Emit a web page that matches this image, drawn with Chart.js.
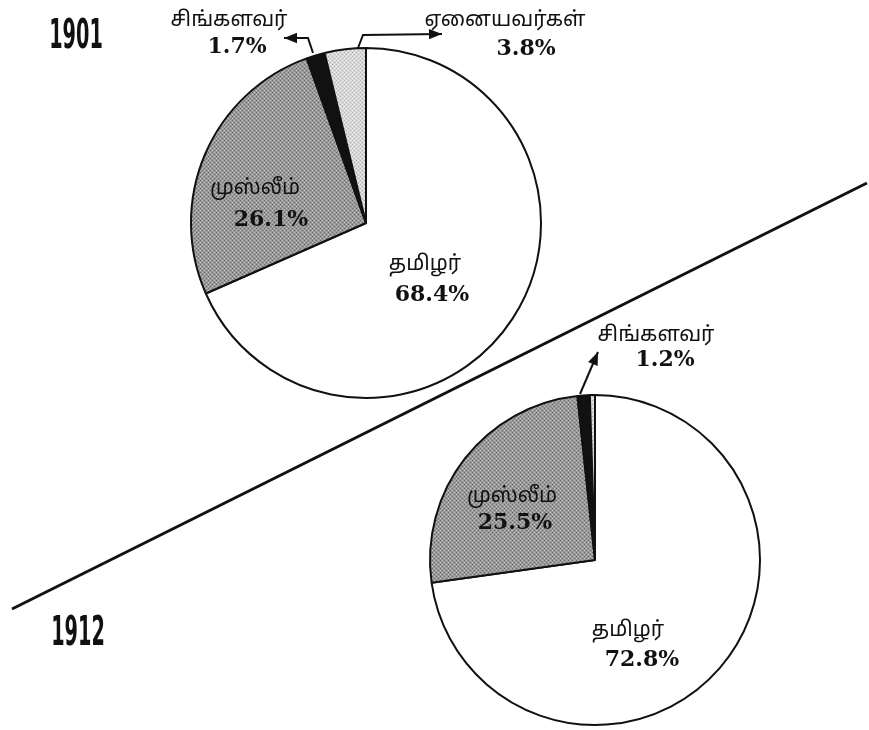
<!DOCTYPE html>
<html>
<head>
<meta charset="utf-8">
<script src="https://cdn.jsdelivr.net/npm/chart.js@4/dist/chart.umd.min.js"></script>
<style>
  html, body { margin: 0; padding: 0; background: #fff; }
  #wrap { position: relative; width: 869px; height: 730px; }
  #wrap canvas { position: absolute; left: 0; top: 0; }
</style>
</head>
<body>
<div id="wrap">
  <canvas id="pie1901" width="869" height="730"></canvas>
  <canvas id="pie1912" width="869" height="730"></canvas>
</div>
<script>
// --- Data ---
const categories = ['தமிழர்', 'முஸ்லீம்', 'சிங்களவர்', 'ஏனையவர்கள்'];
const years = ['1901', '1912'];
const share1901 = [68.4, 26.1, 1.7, 3.8];
const share1912 = [72.8, 25.5, 1.2, 0.5];

const TAMIL_FONT = '21px "Noto Sans Tamil", "Latha", "Noto Sans", sans-serif';
const NUM_FONT = 'bold 22px "DejaVu Serif", "Liberation Serif", serif';

// --- Pola titik ala cetakan ---
function dotPattern(base, dark, light) {
  const c = document.createElement('canvas');
  c.width = 4; c.height = 4;
  const g = c.getContext('2d');
  g.fillStyle = base; g.fillRect(0, 0, 4, 4);
  g.fillStyle = dark;
  g.fillRect(0, 0, 1, 1); g.fillRect(2, 2, 1, 1);
  g.fillStyle = light;
  g.fillRect(2, 0, 1, 1); g.fillRect(0, 2, 1, 1);
  return g.createPattern(c, 'repeat');
}

const fills = [
  '#ffffff',
  dotPattern('#9a9a9a', '#666666', '#bdbdbd'),
  '#111111',
  dotPattern('#d8d8d8', '#acacac', '#efefef')
];

// posisi label tiap kategori (null = tidak ditulis)
const labelPos1901 = [[425, 266, 432, 295], [255, 190, 271, 220], [229, 22, 237, 47], [505, 22, 526, 49]];
const labelPos1912 = [[628, 632, 642, 660], [512, 498, 515, 523], [656, 337, 665, 360], null];

function arrow(ctx, pts) {
  ctx.beginPath();
  ctx.moveTo(pts[0][0], pts[0][1]);
  for (let i = 1; i < pts.length; i++) ctx.lineTo(pts[i][0], pts[i][1]);
  ctx.stroke();
  const [x1, y1] = pts[pts.length - 2];
  const [x2, y2] = pts[pts.length - 1];
  const a = Math.atan2(y2 - y1, x2 - x1);
  ctx.beginPath();
  ctx.moveTo(x2, y2);
  ctx.lineTo(x2 - 14 * Math.cos(a - 0.38), y2 - 14 * Math.sin(a - 0.38));
  ctx.lineTo(x2 - 14 * Math.cos(a + 0.38), y2 - 14 * Math.sin(a + 0.38));
  ctx.closePath();
  ctx.fill();
}

function yearText(ctx, text, x, y) {
  ctx.save();
  ctx.translate(x, y);
  ctx.scale(0.47, 1);
  ctx.font = 'bold 41px "DejaVu Sans", sans-serif';
  ctx.textAlign = 'center';
  ctx.textBaseline = 'middle';
  ctx.fillText(text, 0, 0);
  ctx.restore();
}

// --- Plugin label & dekorasi ---
const labelPlugin = {
  id: 'pieLabels',
  afterDraw(chart, args, opts) {
    const ctx = chart.ctx;
    const values = chart.data.datasets[0].data;
    ctx.save();
    ctx.fillStyle = '#111';
    ctx.strokeStyle = '#111';
    ctx.textAlign = 'center';
    ctx.textBaseline = 'middle';

    if (opts.decor) {
      ctx.lineWidth = 3;
      ctx.beginPath();
      ctx.moveTo(12, 609);
      ctx.lineTo(867, 183);
      ctx.stroke();
      yearText(ctx, years[0], 76, 37);
      yearText(ctx, years[1], 78, 634);
    }

    ctx.lineWidth = 2;
    (opts.arrows || []).forEach(p => arrow(ctx, p));

    opts.pos.forEach((p, i) => {
      if (!p) return;
      ctx.font = TAMIL_FONT;
      ctx.fillText(chart.data.labels[i], p[0], p[1]);
      ctx.font = NUM_FONT;
      ctx.fillText(values[i].toFixed(1) + '%', p[2], p[3]);
    });
    ctx.restore();
  }
};

function makePie(id, values, padding, pluginOpts) {
  return new Chart(document.getElementById(id), {
    type: 'pie',
    data: {
      labels: categories,
      datasets: [{
        data: values,
        backgroundColor: fills,
        borderColor: '#111',
        borderWidth: 2
      }]
    },
    options: {
      responsive: false,
      animation: false,
      layout: { padding },
      plugins: {
        legend: { display: false },
        tooltip: { enabled: false },
        pieLabels: pluginOpts
      },
      events: []
    },
    plugins: [labelPlugin]
  });
}

makePie('pie1901', share1901,
  { left: 190, top: 47, right: 327, bottom: 331 },
  {
    decor: true,
    pos: labelPos1901,
    arrows: [
      [[313, 53], [308, 38], [284, 38]],
      [[358, 48], [363, 35], [442, 34]]
    ]
  });

makePie('pie1912', share1912,
  { left: 429, top: 394, right: 108, bottom: 4 },
  {
    decor: false,
    pos: labelPos1912,
    arrows: [
      [[580, 394], [598, 352]]
    ]
  });
</script>
</body>
</html>
